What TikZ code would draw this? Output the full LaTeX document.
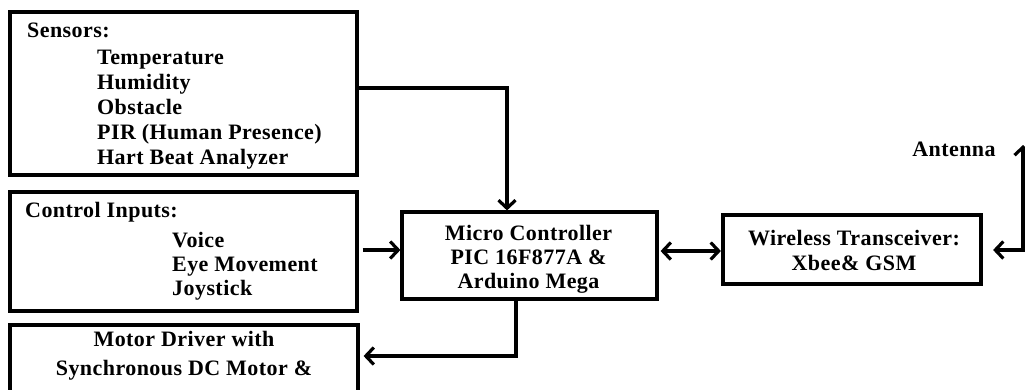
\documentclass[tikz,border=0pt]{standalone}
\usepackage{fontspec}
\setmainfont{Liberation Serif}[LetterSpace=2]
\usetikzlibrary{arrows.meta}
\begin{document}
\begin{tikzpicture}[x=1pt,y=-1pt,
  box/.style={draw,line width=3.2pt,inner sep=0pt},
  txt/.style={inner sep=0pt,font=\fontsize{22}{24}\selectfont\bfseries},
  tl/.style={txt,anchor=base west},
  tc/.style={txt,anchor=base},
  tip/.style={},
  arr/.style={line width=3.2pt,-{Straight Barb[length=8pt,width=17pt,line width=3.2pt]}},
  darr/.style={line width=3.2pt,{Straight Barb[length=8pt,width=17pt,line width=3.2pt]}-{Straight Barb[length=8pt,width=17pt,line width=3.2pt]}}]
\useasboundingbox (0,0) rectangle (1025,389);
% boxes
\node[box,minimum width=347pt,minimum height=163pt] (sens) at (183.5,93.5) {};
\node[box,minimum width=347pt,minimum height=119pt] (ctrl) at (183.5,251.5) {};
\node[box,minimum width=348pt,minimum height=100pt] (motor) at (184,375) {};
\node[box,minimum width=255pt,minimum height=87pt] (micro) at (529.5,255.5) {};
\node[box,line width=4.2pt,minimum width=258pt,minimum height=69pt] (wire) at (852,249.5) {};
% sensors text
\node[tl] (s0) at (27,37) {Sensors:};
\node[tl] (s1) at (97,64.5) {Temperature};
\node[tl] (s2) at (97,89.5) {Humidity};
\node[tl] (s3) at (97,114) {Obstacle};
\node[tl] (s4) at (97,139) {PIR (Human Presence)};
\node[tl] (s5) at (97,164) {Hart Beat Analyzer};
% control text
\node[tl] (c0) at (25,217) {Control Inputs:};
\node[tl] (c1) at (172,247) {Voice};
\node[tl] (c2) at (172,271) {Eye Movement};
\node[tl] (c3) at (172,295) {Joystick};
% motor text
\node[tc] (m1) at (184,346) {Motor Driver with};
\node[tc] (m2) at (184,375) {Synchronous DC Motor \&};
% micro text
\node[tc] (u1) at (528.5,240) {Micro Controller};
\node[tc] (u2) at (528.5,264) {PIC 16F877A \&};
\node[tc] (u3) at (528.5,288) {Arduino Mega};
% wireless text
\node[tc] (w1) at (854,245) {Wireless Transceiver:};
\node[tc] (w2) at (854,270) {Xbee\& GSM};
% antenna
\node[tc] (antl) at (954,156) {Antenna};
\coordinate (ant) at (1023,145);
% connectors
\draw[arr] (sens.east |- 0,88) -| (micro.north -| 507,0);
\draw[arr,shorten <=4pt] (ctrl.east |- 0,250) -- (micro.west |- 0,250);
\draw[arr] (micro.south -| 516,0) |- ([xshift=4pt]motor.east |- 0,356);
\draw[darr,shorten <=2pt] (micro.east |- 0,251) -- (wire.west |- 0,251);
\draw[darr,shorten >=10pt] (ant) |- (wire.east |- 0,250);
\end{tikzpicture}
\end{document}
